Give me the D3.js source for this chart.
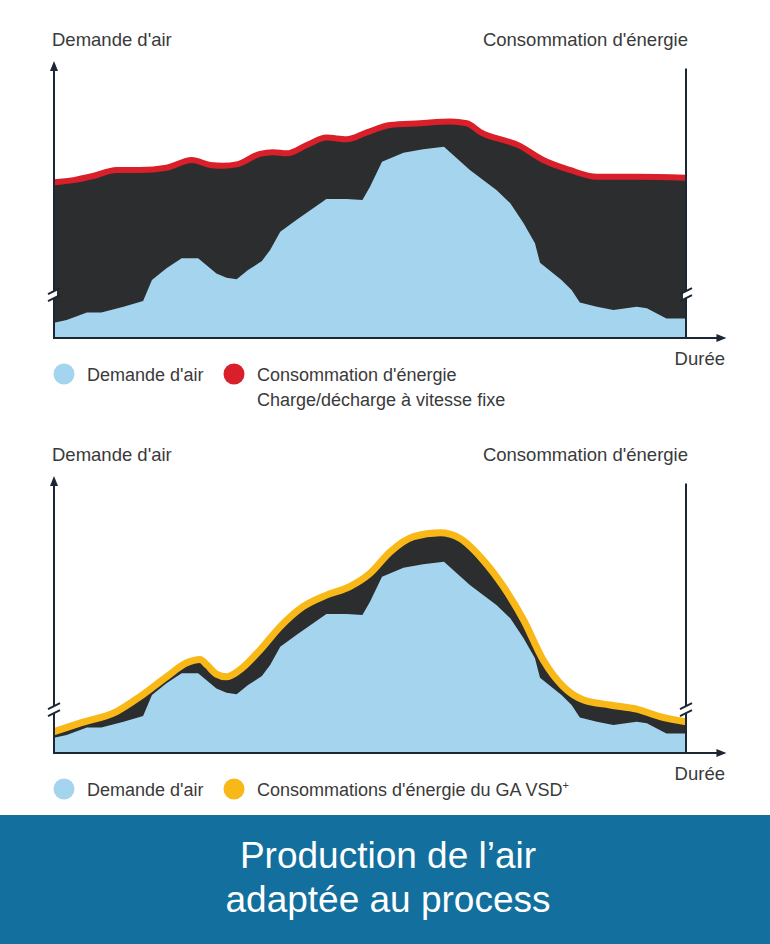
<html><head>
<title>Demande d'air / Consommation d'énergie</title>
<script src="https://cdn.jsdelivr.net/npm/d3@7"></script>
<style>
  body { margin: 0; background: #fff; }
  svg text { font-family: "Liberation Sans", Arial, Helvetica, sans-serif; }
</style>
</head>
<body>
<svg id="chart" width="770" height="944"></svg>

<script>

// data: time 0..100, values 0..100 (share of the y axis)
let demandeT = [0, 2.0, 5.2, 7.5, 11.0, 14.1, 15.5, 17.8, 20.2, 22.8, 25.7, 27.3, 28.9, 30.7, 32.9, 34.2, 35.8, 38.4, 43.1, 46.3, 48.8, 50.0, 51.9, 55.3, 58.4, 61.7, 65.8, 70.0, 72.2, 74.3, 76.1, 76.9, 80.3, 81.9, 83.2, 85.9, 88.5, 92.2, 93.8, 96.9, 100];
let demandeV = [5.5, 6.5, 9.2, 9.2, 11.3, 13.4, 21.0, 25.3, 28.9, 28.9, 23.4, 21.8, 21.3, 24.6, 27.9, 31.9, 38.5, 42.8, 50.4, 50.4, 50.0, 54.8, 63.9, 67.1, 68.4, 69.3, 60.9, 53.6, 48.8, 41.6, 34.3, 27.3, 21.0, 17.4, 12.9, 11.3, 10.1, 11.3, 10.8, 7.1, 7.1];

// fixed speed load/unload
let fixeT = [0, 3.1, 6.2, 9.9, 13.6, 17.8, 21.8, 24.7, 26.8, 28.9, 32.6, 34.7, 36.8, 40.0, 43.1, 46.3, 49.5, 53.2, 57.9, 62.7, 65.3, 67.4, 73.7, 77.4, 81.6, 85.9, 92.2, 100];
let fixeV = [56.4, 57.2, 58.7, 60.9, 60.9, 61.7, 64.5, 62.7, 62.4, 62.9, 66.7, 67.3, 66.9, 69.9, 72.6, 72.0, 74.5, 77.2, 77.8, 78.4, 77.8, 74.7, 69.6, 64.5, 60.9, 58.4, 58.4, 58.1];

// GA VSD+
let vsdT = [0, 4.1, 9.9, 13.6, 17.8, 21.0, 23.1, 24.2, 25.7, 27.3, 29.4, 32.6, 35.8, 39.4, 43.1, 46.8, 50.0, 53.2, 56.9, 61.1, 64.2, 67.9, 71.1, 74.3, 77.4, 80.6, 83.8, 88.0, 92.2, 95.9, 100];
let vsdV = [7.7, 10.8, 15.0, 20.4, 27.6, 32.7, 33.9, 31.9, 28.6, 27.6, 30.1, 37.3, 45.8, 53.0, 57.2, 60.3, 65.1, 72.9, 78.4, 79.8, 77.8, 69.9, 60.3, 48.2, 33.7, 24.0, 19.2, 17.4, 15.9, 13.2, 11.3];

let labelGauche = "Demande d'air";
let labelDroite = "Consommation d'énergie";
let labelDuree = "Durée";
let titreLignes = ["Production de l’air", "adaptée au process"];

let cBleu = "#a5d5ee", cNoir = "#2c2d2f", cRouge = "#d91f2a", cJaune = "#f8b817", cAxe = "#1b2733", cTexte = "#3a3a3a";

let svg = d3.select("#chart");
let x = d3.scaleLinear().domain([0, 100]).range([54, 686]);

function zip(ts, vs) { return ts.map(function(t, i){ return [t, vs[i]]; }); }

// draws one panel; y0 is the pixel row of the time axis
function panel(y0, energie, couleur, largeur, legende) {
  let y = d3.scaleLinear().domain([0, 100]).range([y0, y0 - 276]);
  let g = svg.append("g");

  let haut = d3.area().x(d => x(d[0])).y0(y(0)).y1(d => y(d[1])).curve(d3.curveMonotoneX);
  let bas = d3.area().x(d => x(d[0])).y0(y(0)).y1(d => y(d[1]));
  let ligne = d3.line().x(d => x(d[0])).y(d => y(d[1])).curve(d3.curveMonotoneX);

  g.append("path").attr("d", haut(energie)).attr("fill", cNoir);
  g.append("path").attr("d", bas(zip(demandeT, demandeV))).attr("fill", cBleu);
  g.append("path").attr("d", ligne(energie)).attr("fill", "none")
    .attr("stroke", couleur).attr("stroke-width", largeur);

  // axes
  g.append("line").attr("x1", x(0)).attr("x2", x(0)).attr("y1", y(0) + 1).attr("y2", y(99))
    .attr("stroke", cAxe).attr("stroke-width", 2);
  g.append("path").attr("d", "M" + x(0) + "," + (y(100) - 1) + "l-4,10h8z").attr("fill", cAxe);
  g.append("line").attr("x1", x(100)).attr("x2", x(100)).attr("y1", y(0)).attr("y2", y(97.6))
    .attr("stroke", cAxe).attr("stroke-width", 2);
  g.append("line").attr("x1", x(0)).attr("x2", x(105)).attr("y1", y(0)).attr("y2", y(0))
    .attr("stroke", cAxe).attr("stroke-width", 2);
  g.append("path").attr("d", "M" + x(106.4) + "," + y(0) + "l-10,-4v8z").attr("fill", cAxe);

  // axis breaks "//"
  [x(0), x(100)].forEach(function(bx){
    let by = y(15.7);
    g.append("path").attr("d", "M" + (bx - 3) + "," + (by - 2) + "L" + (bx + 3) + "," + (by - 5)
      + "L" + (bx + 3) + "," + (by + 2) + "L" + (bx - 3) + "," + (by + 5) + "Z").attr("fill", "#fff");
    [0, 7].forEach(function(o){
      g.append("line").attr("x1", bx - 6).attr("y1", by - 0.5 + o).attr("x2", bx + 6).attr("y2", by - 6.5 + o)
        .attr("stroke", cAxe).attr("stroke-width", 2);
    });
  });

  // labels
  g.append("text").attr("x", 52).attr("y", y0 - 292).attr("font-size", 18.5).attr("fill", cTexte).text(labelGauche);
  g.append("text").attr("x", 688).attr("y", y0 - 292).attr("font-size", 18.5).attr("fill", cTexte)
    .attr("text-anchor", "end").text(labelDroite);
  g.append("text").attr("x", 725).attr("y", y0 + 27).attr("font-size", 18.5).attr("fill", cTexte)
    .attr("text-anchor", "end").text(labelDuree);

  // legend
  let ly = y0 + 36;
  g.append("circle").attr("cx", 64).attr("cy", ly).attr("r", 10.5).attr("fill", cBleu);
  g.append("text").attr("x", 87).attr("y", ly + 7).attr("font-size", 18).attr("fill", cTexte).text(labelGauche);
  g.append("circle").attr("cx", 234).attr("cy", ly).attr("r", 10.5).attr("fill", couleur);
  legende(g.append("text").attr("x", 257).attr("y", ly + 7).attr("font-size", 18).attr("fill", cTexte));
}

// 1. fixed speed
panel(338, zip(fixeT, fixeV), cRouge, 6, function(t){
  t.append("tspan").text("Consommation d'énergie");
  t.append("tspan").attr("x", 257).attr("dy", 25).text("Charge/décharge à vitesse fixe");
});

// 2. VSD+
panel(753, zip(vsdT, vsdV), cJaune, 7, function(t){
  t.append("tspan").text("Consommations d'énergie du GA VSD");
  t.append("tspan").attr("font-size", 11).attr("dy", -7).text("+");
});

// 3. banner
svg.append("rect").attr("x", 0).attr("y", 815).attr("width", 770).attr("height", 129).attr("fill", "#126f9e");
titreLignes.forEach(function(s, i){
  svg.append("text").attr("x", 388).attr("y", 868 + i * 44).attr("text-anchor", "middle")
    .attr("font-size", 37).attr("fill", "#fff").text(s);
});

</script>
</body>
</html>
